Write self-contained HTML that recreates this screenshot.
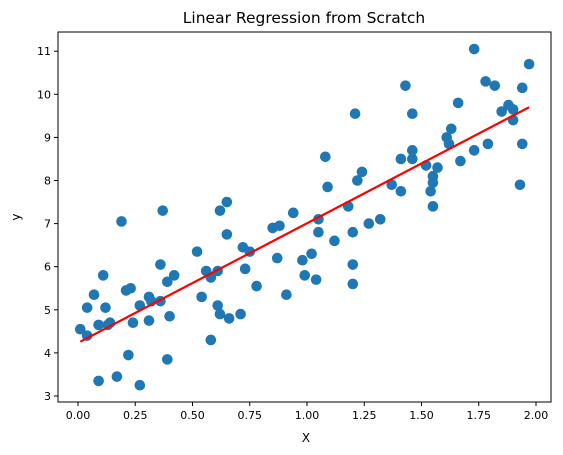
<!DOCTYPE html>
<html><head><meta charset="utf-8"><style>
body{margin:0;background:#fff;}
svg{display:block;font-family:"DejaVu Sans","Liberation Sans",sans-serif;}
</style></head><body>
<svg id="chart" width="563" height="455" viewBox="0 0 563 455">
<rect x="0" y="0" width="563" height="455" fill="#fff"/>
<text x="304" y="23" text-anchor="middle" font-size="15.5" fill="#000">Linear Regression from Scratch</text>
<g id="marks"></g>
<g id="axes"></g>
<text x="306" y="442" text-anchor="middle" font-size="12">X</text>
<text x="20" y="217" text-anchor="middle" font-size="12" transform="rotate(-90 20 217)">y</text>
</svg>
<script>
const xs = [0.01,0.04,0.04,0.07,0.09,0.09,0.11,0.12,0.13,0.14,0.17,0.19,0.21,0.22,0.23,0.24,0.27,0.27,0.31,0.31,0.32,0.36,0.37,0.36,0.39,0.39,0.40,0.42,0.52,0.54,0.56,0.58,0.58,0.61,0.61,0.62,0.62,0.65,0.65,0.66,0.71,0.72,0.73,0.75,0.78,0.85,0.87,0.88,0.91,0.94,0.98,0.99,1.02,1.04,1.05,1.05,1.08,1.09,1.12,1.18,1.20,1.20,1.20,1.21,1.22,1.24,1.27,1.32,1.37,1.41,1.41,1.43,1.46,1.46,1.46,1.52,1.55,1.55,1.54,1.55,1.57,1.61,1.62,1.63,1.66,1.67,1.73,1.73,1.78,1.79,1.82,1.85,1.88,1.90,1.90,1.93,1.94,1.94,1.97];
const ys = [4.55,5.05,4.4,5.35,3.35,4.65,5.8,5.05,4.65,4.7,3.45,7.05,5.45,3.95,5.5,4.7,3.25,5.1,5.3,4.75,5.2,5.2,7.3,6.05,5.65,3.85,4.85,5.8,6.35,5.3,5.9,4.3,5.75,5.9,5.1,7.3,4.9,6.75,7.5,4.8,4.9,6.45,5.95,6.35,5.55,6.9,6.2,6.95,5.35,7.25,6.15,5.8,6.3,5.7,7.1,6.8,8.55,7.85,6.6,7.4,6.8,6.05,5.6,9.55,8.0,8.2,7.0,7.1,7.9,8.5,7.75,10.2,9.55,8.7,8.5,8.35,8.1,7.95,7.75,7.4,8.3,9.0,8.85,9.2,9.8,8.45,11.05,8.7,10.3,8.85,10.2,9.6,9.75,9.65,9.4,7.9,8.85,10.15,10.7];
const fitX = [0.01,1.97];
const fitY = [4.26,9.70];
const xTicks = [0,0.25,0.5,0.75,1.0,1.25,1.5,1.75,2.0];
const xTickLabels = ["0.00","0.25","0.50","0.75","1.00","1.25","1.50","1.75","2.00"];
const yTicks = [3,4,5,6,7,8,9,10,11];
const yTickLabels = ["3","4","5","6","7","8","9","10","11"];

const L=58,R=551,T=32,B=402;
const sx = v => 78 + v*229;
const sy = v => 396 - (v-3)*43.1;
const NS="http://www.w3.org/2000/svg";
const marks=document.getElementById('marks');
const axes=document.getElementById('axes');
function mk(tag,attrs,parent){const e=document.createElementNS(NS,tag);for(const k in attrs)e.setAttribute(k,attrs[k]);parent.appendChild(e);return e;}
for(let i=0;i<xs.length;i++){
  const c=mk('circle',{cx:sx(xs[i]),cy:sy(ys[i]),r:5.3,fill:'#1f77b4'},marks);
  
  
}
const ln=mk('line',{x1:sx(fitX[0]),y1:sy(fitY[0]),x2:sx(fitX[1]),y2:sy(fitY[1]),stroke:'#ff0000','stroke-width':2.2},marks);


const fr=mk('rect',{x:L,y:T,width:R-L,height:B-T,fill:'none',stroke:'#000','stroke-width':1},axes);


xTicks.forEach((t,i)=>{
  const x=sx(t);
  const tk=mk('line',{x1:x,y1:B,x2:x,y2:B+4,stroke:'#000'},axes);
  
  
  const tx=mk('text',{x:x,y:B+17,'text-anchor':'middle','font-size':11},axes);
  tx.textContent=xTickLabels[i];
  
  
});
yTicks.forEach((t,i)=>{
  const y=sy(t);
  const tk=mk('line',{x1:L-4,y1:y,x2:L,y2:y,stroke:'#000'},axes);
  
  
  const tx=mk('text',{x:L-7,y:y+4,'text-anchor':'end','font-size':11},axes);
  tx.textContent=yTickLabels[i];
  
  
});
</script>
</body></html>
